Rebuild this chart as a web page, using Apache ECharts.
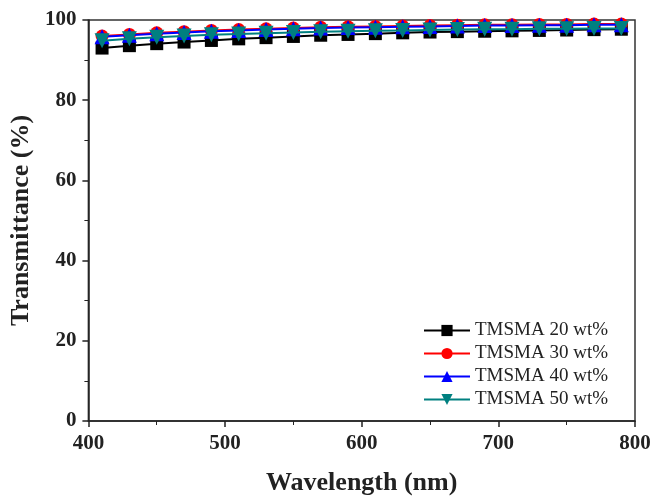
<!DOCTYPE html>
<html><head><meta charset="utf-8">
<script src="https://cdn.jsdelivr.net/npm/echarts@6/dist/echarts.min.js"></script>
<style>html,body{margin:0;padding:0;background:#fff}#c{width:666px;height:501px}</style>
</head><body><div id="c"></div>
<script>
const wavelengths = [410,430,450,470,490,510,530,550,570,590,610,630,650,670,690,710,730,750,770,790];
const t20 = [93.0,93.6,94.1,94.5,94.9,95.3,95.6,95.9,96.2,96.4,96.6,96.8,97.0,97.1,97.2,97.3,97.4,97.5,97.6,97.7];
const t30 = [96.0,96.4,96.8,97.1,97.4,97.6,97.8,98.0,98.2,98.3,98.4,98.5,98.6,98.7,98.8,98.8,98.9,98.9,99.0,99.0];
const t40 = [95.8,96.2,96.6,96.9,97.2,97.4,97.6,97.8,98.0,98.1,98.2,98.3,98.4,98.5,98.6,98.6,98.7,98.7,98.8,98.8];
const t50 = [94.8,95.3,95.7,96.0,96.3,96.5,96.7,96.9,97.1,97.2,97.3,97.4,97.5,97.6,97.7,97.7,97.8,97.8,97.9,97.9];
const names = ['TMSMA 20 wt%','TMSMA 30 wt%','TMSMA 40 wt%','TMSMA 50 wt%'];
const colors = ['#000000','#ff0000','#0000ff','#008080'];
const symbols = ['rect','circle','triangle','path://M0,0 L10,0 L5,9 Z'];
const allData = [t20,t30,t40,t50];
const font = 'Liberation Serif';
const chart = echarts.init(document.getElementById('c'));
chart.setOption({
  animation:false,
  backgroundColor:'#fff',
  grid:{left:86,right:31,top:20,bottom:74,show:true,borderColor:'#333',borderWidth:1.5,backgroundColor:'transparent'},
  legend:{
    orient:'vertical',left:418,top:316,itemWidth:46,itemHeight:14,itemGap:4,
    data:names,
    textStyle:{fontFamily:font,fontSize:19,color:'#222'}
  },
  xAxis:{
    type:'value',min:400,max:800,interval:100,
    name:'Wavelength (nm)',nameLocation:'middle',nameGap:49,
    nameTextStyle:{fontFamily:font,fontWeight:'bold',fontSize:26,color:'#222'},
    axisLine:{lineStyle:{color:'#222',width:1.5}},
    axisTick:{show:true,length:6,lineStyle:{color:'#222',width:1.5}},
    minorTick:{show:true,splitNumber:2,length:4,lineStyle:{color:'#222'}},
    axisLabel:{fontFamily:font,fontWeight:'bold',fontSize:21,color:'#222',margin:12},
    splitLine:{show:false}
  },
  yAxis:{
    type:'value',min:0,max:100,interval:20,
    name:'Transmittance (%)',nameLocation:'middle',nameGap:46,
    nameTextStyle:{fontFamily:font,fontWeight:'bold',fontSize:26,color:'#222'},
    axisLine:{show:true,lineStyle:{color:'#222',width:1.5}},
    axisTick:{show:true,length:6,lineStyle:{color:'#222',width:1.5}},
    minorTick:{show:true,splitNumber:2,length:4,lineStyle:{color:'#222'}},
    axisLabel:{fontFamily:font,fontWeight:'bold',fontSize:21,color:'#222',margin:12},
    splitLine:{show:false}
  },
  series: names.map((n,i)=>({
    name:n,type:'line',
    data: wavelengths.map((w,j)=>[w,allData[i][j]]),
    symbol:symbols[i],symbolSize:i>=2?15:13,
    lineStyle:{color:colors[i],width:2},
    itemStyle:{color:colors[i]},
    z: 2+i
  }))
});
</script></body></html>
